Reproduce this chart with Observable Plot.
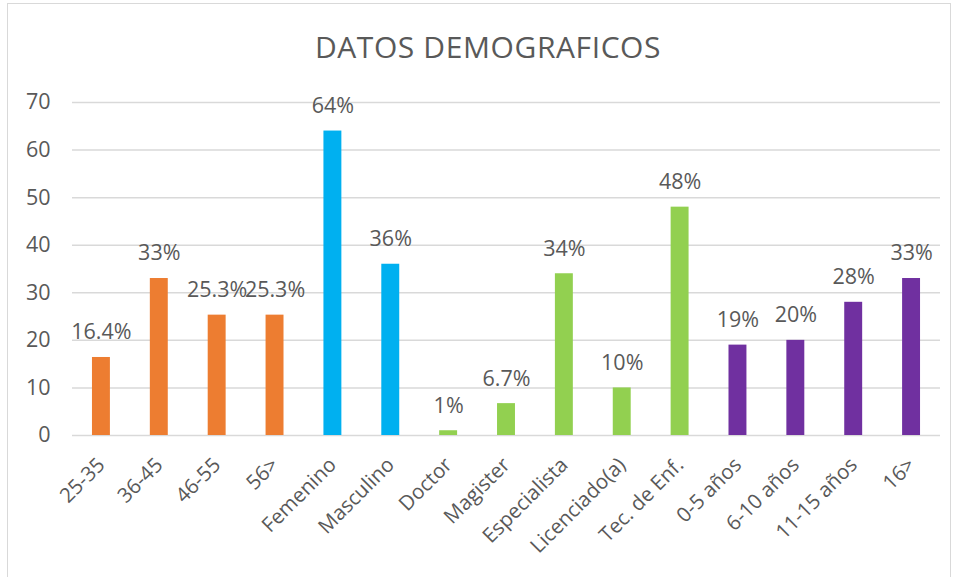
<!DOCTYPE html>
<html>
<head>
<meta charset="utf-8">
<script src="https://cdn.jsdelivr.net/npm/d3@7"></script>
<script src="https://cdn.jsdelivr.net/npm/@observablehq/plot@0.6"></script>
<style>
  body { margin: 0; background: #fff; font-family: "Open Sans", sans-serif; }
  #wrap { position: relative; width: 960px; height: 577px; overflow: hidden; }
  #frame { position: absolute; left: 7px; top: 3px; width: 944px; height: 600px; border: 1px solid #d9d9d9; box-sizing: border-box; }
  #title { position: absolute; left: 0; width: 976px; top: 26px; text-align: center; font-size: 30px; letter-spacing: 0.6px; color: #595959; }
  #chart { position: absolute; left: 0; top: 0; }
  #chart g[aria-label="y-axis tick label"] { font-size: 21.5px !important; }
  #chart g[aria-label="x-axis tick label"] { font-size: 20.5px !important; }
  #chart g[aria-label="text"] { font-size: 21.5px !important; }
</style>
</head>
<body>
<div id="wrap">
  <div id="frame"></div>
  <div id="chart"></div>
  <div id="title">DATOS DEMOGRAFICOS</div>
</div>
<script>
const categories = ["25-35","36-45","46-55","56>","Femenino","Masculino","Doctor","Magister","Especialista","Licenciado(a)","Tec. de Enf.","0-5 años","6-10 años","11-15 años","16>"];
const values = [16.4, 33, 25.3, 25.3, 64, 36, 1, 6.7, 34, 10, 48, 19, 20, 28, 33];
const labels = ["16.4%","33%","25.3%","25.3%","64%","36%","1%","6.7%","34%","10%","48%","19%","20%","28%","33%"];
const groups = ["Edad","Edad","Edad","Edad","Sexo","Sexo","Grado","Grado","Grado","Grado","Grado","Años","Años","Años","Años"];
const groupNames = ["Edad","Sexo","Grado","Años"];
const groupColors = ["#ED7D31","#00B0F0","#92D050","#7030A0"];
const yTicks = [0,10,20,30,40,50,60,70];

const data = categories.map((c, i) => ({cat: c, value: values[i], label: labels[i], group: groups[i]}));

const chart = Plot.plot({
  width: 960,
  height: 577,
  marginLeft: 72,
  marginRight: 20,
  marginTop: 102,
  marginBottom: 142,
  style: {fontFamily: "Open Sans, sans-serif", color: "#595959", background: "transparent"},
  x: {domain: categories, paddingInner: 0.69, paddingOuter: 0.345, round: false, label: null},
  y: {domain: [0, 70], ticks: yTicks, label: null},
  color: {domain: groupNames, range: groupColors},
  marks: [
    Plot.gridY(yTicks, {stroke: "#d9d9d9", strokeOpacity: 1, strokeWidth: 1.5}),
    Plot.barY(data, {x: "cat", y: "value", fill: "group"}),
    Plot.text(data, {x: "cat", y: "value", text: "label", dy: -25, fill: "#595959", fontSize: 21.5}),
    Plot.axisX({tickSize: 0, tickPadding: 26, tickRotate: -45, fontSize: 20.5, fill: "#595959"}),
    Plot.axisY({ticks: yTicks, tickSize: 0, tickPadding: 22, fontSize: 21.5, fill: "#595959"})
  ]
});
document.getElementById("chart").appendChild(chart);
</script>
</body>
</html>
